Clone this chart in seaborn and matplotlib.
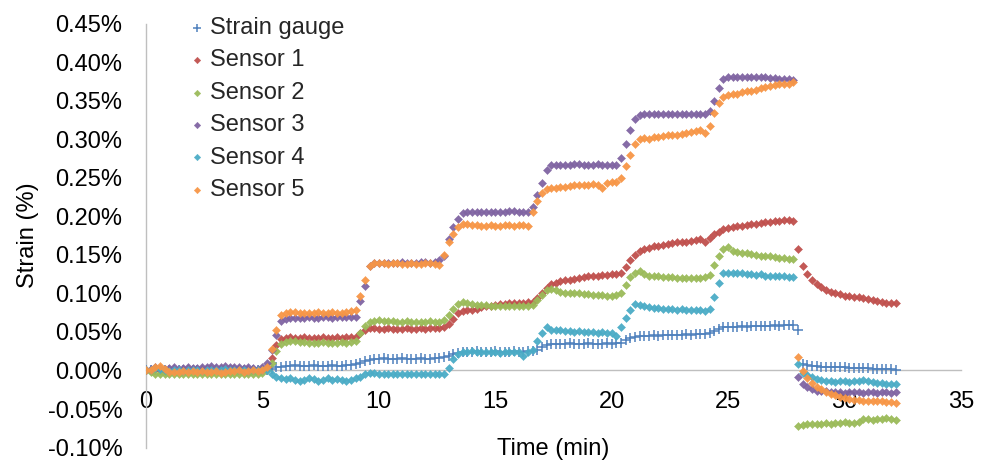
import numpy as np
import pandas as pd
import matplotlib
matplotlib.use("Agg")
import matplotlib.pyplot as plt
from matplotlib.ticker import FuncFormatter
import seaborn as sns

# Sampling times (min), one reading every 0.2 min
time_min = [
    0.0, 0.2, 0.4, 0.6, 0.8, 1.0, 1.2, 1.4, 1.6, 1.8, 2.0, 2.2, 2.4, 2.6, 2.8, 3.0, 3.2, 3.4, 3.6, 3.8,
    4.0, 4.2, 4.4, 4.6, 4.8, 5.0, 5.2, 5.4, 5.6, 5.8, 6.0, 6.2, 6.4, 6.6, 6.8, 7.0, 7.2, 7.4, 7.6, 7.8,
    8.0, 8.2, 8.4, 8.6, 8.8, 9.0, 9.2, 9.4, 9.6, 9.8, 10.0, 10.2, 10.4, 10.6, 10.8, 11.0, 11.2, 11.4, 11.6, 11.8,
    12.0, 12.2, 12.4, 12.6, 12.8, 13.0, 13.2, 13.4, 13.6, 13.8, 14.0, 14.2, 14.4, 14.6, 14.8, 15.0, 15.2, 15.4, 15.6, 15.8,
    16.0, 16.2, 16.4, 16.6, 16.8, 17.0, 17.2, 17.4, 17.6, 17.8, 18.0, 18.2, 18.4, 18.6, 18.8, 19.0, 19.2, 19.4, 19.6, 19.8,
    20.0, 20.2, 20.4, 20.6, 20.8, 21.0, 21.2, 21.4, 21.6, 21.8, 22.0, 22.2, 22.4, 22.6, 22.8, 23.0, 23.2, 23.4, 23.6, 23.8,
    24.0, 24.2, 24.4, 24.6, 24.8, 25.0, 25.2, 25.4, 25.6, 25.8, 26.0, 26.2, 26.4, 26.6, 26.8, 27.0, 27.2, 27.4, 27.6, 27.8,
    28.0, 28.2, 28.4, 28.6, 28.8, 29.0, 29.2, 29.4, 29.6, 29.8, 30.0, 30.2, 30.4, 30.6, 30.8, 31.0, 31.2, 31.4, 31.6, 31.8,
    32.0, 32.2,
]

# Strain readings (%)
strain_gauge = [
    0.000, 0.000, 0.001, 0.000, 0.000, 0.000, 0.001, 0.000, 0.000,
    0.000, 0.000, 0.001, 0.000, 0.000, 0.000, 0.000, 0.000, 0.001,
    0.000, 0.000, 0.000, 0.000, 0.000, 0.000, 0.000, 0.000, 0.001,
    0.002, 0.004, 0.005,
    0.006, 0.006, 0.007, 0.006, 0.006, 0.006, 0.007, 0.006,
    0.006, 0.006, 0.007, 0.006, 0.006, 0.007, 0.007, 0.008,
    0.010, 0.012, 0.014,
    0.015, 0.015, 0.016, 0.015, 0.015, 0.015, 0.016, 0.015,
    0.015, 0.015, 0.016, 0.015, 0.015, 0.016, 0.016, 0.017,
    0.019, 0.021, 0.023, 0.024,
    0.024, 0.024, 0.025, 0.024, 0.024, 0.024, 0.025, 0.024,
    0.024, 0.024, 0.025, 0.024, 0.024, 0.025, 0.025,
    0.027, 0.030, 0.033, 0.034,
    0.035, 0.035, 0.035, 0.036, 0.035, 0.035, 0.035, 0.036,
    0.035, 0.035, 0.035, 0.036, 0.035, 0.036, 0.036,
    0.039, 0.042, 0.044, 0.045,
    0.045, 0.045, 0.046, 0.045, 0.046, 0.046, 0.046, 0.046,
    0.046, 0.047, 0.046, 0.047, 0.047, 0.047, 0.048,
    0.051, 0.054, 0.056, 0.057,
    0.057, 0.057, 0.058, 0.057, 0.058, 0.058, 0.058,
    0.058, 0.058, 0.059, 0.058, 0.059, 0.059, 0.059,
    0.052, 0.008, 0.007, 0.006, 0.006, 0.005, 0.005, 0.004, 0.004, 0.004, 0.004,
    0.003, 0.003, 0.003, 0.003, 0.003, 0.002, 0.002, 0.002, 0.002, 0.002, 0.001,
]

sensor_1 = [
    0.001, 0.000, 0.002, 0.001, -0.001, 0.000, 0.001, 0.000, 0.001,
    0.002, 0.001, 0.000, 0.001, 0.002, 0.001, 0.000, 0.001, 0.002,
    0.001, 0.000, 0.001, 0.000, 0.000, 0.001, 0.000, 0.001, 0.004,
    0.016, 0.033, 0.041,
    0.042, 0.043, 0.042, 0.042, 0.043, 0.042, 0.042, 0.042,
    0.043, 0.042, 0.042, 0.043, 0.042, 0.043, 0.043, 0.044,
    0.048, 0.053, 0.055,
    0.055, 0.054, 0.054, 0.055, 0.054, 0.054, 0.054, 0.055,
    0.054, 0.054, 0.055, 0.054, 0.055, 0.055, 0.055, 0.056,
    0.060, 0.067, 0.074, 0.077,
    0.078, 0.079, 0.080, 0.082, 0.083, 0.084, 0.085, 0.086,
    0.086, 0.087, 0.088, 0.088, 0.088, 0.089, 0.089,
    0.094, 0.101, 0.107, 0.112,
    0.114, 0.116, 0.117, 0.118, 0.119, 0.120, 0.121, 0.122,
    0.122, 0.123, 0.124, 0.124, 0.125, 0.125, 0.127,
    0.134, 0.143, 0.150, 0.155,
    0.157, 0.159, 0.161, 0.162, 0.163, 0.164, 0.165, 0.166,
    0.167, 0.167, 0.168, 0.169, 0.170, 0.166, 0.172,
    0.177, 0.180, 0.183, 0.185,
    0.186, 0.187, 0.188, 0.189, 0.190, 0.190, 0.191,
    0.192, 0.193, 0.194, 0.194, 0.195, 0.195, 0.194,
    0.157, 0.135, 0.125, 0.118, 0.112, 0.108, 0.105, 0.102, 0.100, 0.099, 0.097,
    0.096, 0.095, 0.095, 0.094, 0.093, 0.092, 0.090, 0.089, 0.088, 0.088, 0.087,
]

sensor_2 = [
    0.000, -0.002, -0.004, -0.005, -0.004, -0.004, -0.005, -0.004, -0.005,
    -0.004, -0.004, -0.005, -0.004, -0.004, -0.005, -0.005, -0.004, -0.004,
    -0.005, -0.004, -0.004, -0.004, -0.005, -0.004, -0.004, -0.003, 0.000,
    0.010, 0.025, 0.034,
    0.037, 0.038, 0.038, 0.037, 0.037, 0.036, 0.036, 0.036,
    0.037, 0.036, 0.036, 0.036, 0.037, 0.036, 0.037, 0.038,
    0.048, 0.058, 0.063,
    0.064, 0.065, 0.064, 0.064, 0.064, 0.063, 0.063, 0.064,
    0.063, 0.063, 0.063, 0.063, 0.064, 0.063, 0.063, 0.065,
    0.072, 0.080, 0.086, 0.089,
    0.087, 0.086, 0.085, 0.085, 0.085, 0.084, 0.084, 0.084,
    0.083, 0.083, 0.083, 0.084, 0.083, 0.083, 0.085,
    0.091, 0.098, 0.104, 0.106,
    0.104, 0.102, 0.101, 0.101, 0.100, 0.100, 0.099, 0.099,
    0.098, 0.098, 0.098, 0.097, 0.097, 0.098, 0.100,
    0.111, 0.121, 0.127, 0.129,
    0.125, 0.123, 0.122, 0.122, 0.121, 0.121, 0.121, 0.120,
    0.120, 0.120, 0.120, 0.120, 0.120, 0.121, 0.124,
    0.137, 0.149, 0.157, 0.160,
    0.155, 0.154, 0.153, 0.152, 0.151, 0.150, 0.149,
    0.148, 0.148, 0.147, 0.146, 0.146, 0.145, 0.144,
    -0.072, -0.071, -0.070, -0.070, -0.069, -0.069, -0.068, -0.069, -0.068, -0.068, -0.067,
    -0.068, -0.068, -0.067, -0.063, -0.063, -0.064, -0.063, -0.063, -0.062, -0.063, -0.064,
]

sensor_3 = [
    0.000, 0.002, 0.005, 0.003, 0.002, 0.003, 0.004, 0.002, 0.003,
    0.004, 0.003, 0.003, 0.004, 0.005, 0.006, 0.005, 0.005, 0.006,
    0.004, 0.005, 0.004, 0.003, 0.004, 0.003, 0.002, 0.004, 0.010,
    0.026, 0.046, 0.064,
    0.067, 0.068, 0.068, 0.068, 0.068, 0.069, 0.068, 0.068,
    0.069, 0.069, 0.068, 0.069, 0.069, 0.069, 0.069, 0.070,
    0.090, 0.110, 0.135,
    0.139, 0.140, 0.140, 0.140, 0.140, 0.140, 0.141, 0.140,
    0.140, 0.140, 0.141, 0.141, 0.140, 0.141, 0.143, 0.148,
    0.170, 0.186, 0.197, 0.204,
    0.205, 0.206, 0.206, 0.206, 0.206, 0.206, 0.206, 0.206,
    0.206, 0.207, 0.207, 0.206, 0.206, 0.206, 0.212,
    0.228, 0.243, 0.260, 0.266,
    0.266, 0.267, 0.267, 0.267, 0.268, 0.268, 0.267, 0.267,
    0.267, 0.268, 0.267, 0.267, 0.266, 0.266, 0.275,
    0.294, 0.312, 0.326, 0.331,
    0.332, 0.333, 0.333, 0.333, 0.333, 0.332, 0.333, 0.332,
    0.332, 0.333, 0.332, 0.332, 0.332, 0.333, 0.336,
    0.350, 0.366, 0.378, 0.381,
    0.381, 0.381, 0.381, 0.381, 0.381, 0.380, 0.381,
    0.381, 0.379, 0.379, 0.378, 0.378, 0.378, 0.377,
    -0.008, -0.017, -0.021, -0.024, -0.026, -0.027, -0.027, -0.028, -0.028, -0.028, -0.029,
    -0.028, -0.028, -0.028, -0.029, -0.028, -0.028, -0.029, -0.028, -0.028, -0.029, -0.028,
]

sensor_4 = [
    0.000, 0.001, 0.003, 0.002, 0.000, -0.001, 0.000, 0.000, -0.001,
    0.000, 0.001, 0.000, -0.001, 0.000, 0.001, 0.000, 0.000, 0.002,
    0.001, 0.000, 0.001, 0.000, -0.001, 0.000, 0.000, 0.000, 0.000,
    -0.004, -0.008, -0.010,
    -0.011, -0.010, -0.012, -0.013, -0.012, -0.010, -0.011, -0.013,
    -0.012, -0.010, -0.012, -0.011, -0.012, -0.013, -0.012, -0.010,
    -0.008, -0.004, -0.003,
    -0.003, -0.004, -0.004, -0.005, -0.004, -0.005, -0.004, -0.005,
    -0.004, -0.005, -0.005, -0.004, -0.005, -0.004, -0.005, -0.004,
    0.003, 0.015, 0.021, 0.024,
    0.024, 0.025, 0.024, 0.024, 0.024, 0.024, 0.024, 0.023,
    0.024, 0.024, 0.024, 0.024, 0.019, 0.024, 0.027,
    0.038, 0.048, 0.057, 0.053,
    0.052, 0.052, 0.051, 0.051, 0.050, 0.051, 0.050, 0.050,
    0.050, 0.049, 0.050, 0.049, 0.049, 0.045, 0.056,
    0.068, 0.079, 0.086, 0.085,
    0.083, 0.082, 0.081, 0.081, 0.080, 0.080, 0.080, 0.079,
    0.080, 0.078, 0.078, 0.078, 0.078, 0.077, 0.080,
    0.095, 0.114, 0.127, 0.127,
    0.127, 0.126, 0.126, 0.125, 0.125, 0.124, 0.125,
    0.123, 0.122, 0.122, 0.122, 0.122, 0.121, 0.121,
    0.008, -0.003, -0.006, -0.009, -0.011, -0.012, -0.014, -0.014, -0.015, -0.014, -0.014,
    -0.015, -0.014, -0.013, -0.012, -0.014, -0.015, -0.016, -0.016, -0.017, -0.017, -0.018,
]

sensor_5 = [
    0.000, 0.000, 0.004, 0.006, 0.002, -0.002, -0.002, -0.002, -0.001,
    -0.002, -0.001, -0.002, -0.001, -0.002, -0.002, -0.001, -0.003, -0.002,
    -0.001, -0.001, 0.000, -0.002, -0.001, 0.000, -0.001, 0.000, 0.005,
    0.028, 0.052, 0.072,
    0.075, 0.076, 0.076, 0.075, 0.075, 0.075, 0.075, 0.076,
    0.075, 0.075, 0.076, 0.075, 0.075, 0.076, 0.077, 0.078,
    0.097, 0.118, 0.135,
    0.139, 0.139, 0.139, 0.138, 0.139, 0.139, 0.138, 0.138,
    0.139, 0.138, 0.138, 0.139, 0.139, 0.138, 0.137, 0.150,
    0.166, 0.177, 0.186, 0.190,
    0.190, 0.189, 0.189, 0.188, 0.188, 0.189, 0.188, 0.188,
    0.189, 0.189, 0.188, 0.189, 0.189, 0.188, 0.205,
    0.220, 0.230, 0.235, 0.237,
    0.237, 0.238, 0.238, 0.239, 0.240, 0.241, 0.241, 0.240,
    0.242, 0.241, 0.237, 0.243, 0.244, 0.244, 0.250,
    0.265, 0.280, 0.294, 0.300,
    0.301, 0.300, 0.303, 0.303, 0.304, 0.305, 0.305, 0.306,
    0.307, 0.308, 0.309, 0.311, 0.312, 0.308, 0.317,
    0.334, 0.347, 0.355, 0.357,
    0.358, 0.359, 0.361, 0.362, 0.363, 0.364, 0.366,
    0.368, 0.369, 0.370, 0.371, 0.372, 0.372, 0.374,
    0.018, -0.001, -0.010, -0.016, -0.021, -0.024, -0.028, -0.030, -0.032, -0.034, -0.036,
    -0.037, -0.038, -0.038, -0.039, -0.039, -0.040, -0.039, -0.040, -0.041, -0.041, -0.042,
]

series_names = ["Strain gauge", "Sensor 1", "Sensor 2", "Sensor 3", "Sensor 4", "Sensor 5"]
series_values = [strain_gauge, sensor_1, sensor_2, sensor_3, sensor_4, sensor_5]
series_colors = ["#4F81BD", "#C0504D", "#9BBB59", "#8064A2", "#4BACC6", "#F79646"]

x_ticks = [0, 5, 10, 15, 20, 25, 30, 35]
y_ticks = [-0.10, -0.05, 0.00, 0.05, 0.10, 0.15, 0.20, 0.25, 0.30, 0.35, 0.40, 0.45]

for vals in series_values:
    assert len(vals) == len(time_min)

frames = [pd.DataFrame({"Time (min)": time_min, "Strain (%)": vals, "Series": name})
          for name, vals in zip(series_names, series_values)]
data = pd.concat(frames, ignore_index=True)

sns.set_theme(style="white")
plt.rcParams["font.family"] = ["Liberation Sans", "DejaVu Sans"]

W, H = 988, 476
fig = plt.figure(figsize=(W / 100, H / 100), dpi=100)
top_px, bot_px, left_px, right_px = 23.5, 447.6, 146, 961
ax = fig.add_axes([left_px / W, 1 - bot_px / H, (right_px - left_px) / W, (bot_px - top_px) / H])

for name, color in zip(series_names, series_colors):
    sub = data[data["Series"] == name]
    if name == "Strain gauge":
        sns.scatterplot(data=sub, x="Time (min)", y="Strain (%)", marker="+", s=42,
                        color=color, linewidth=1.1, label=name, ax=ax, zorder=3)
    else:
        sns.scatterplot(data=sub, x="Time (min)", y="Strain (%)", marker="D", s=17,
                        color=color, linewidth=0.3, edgecolor=color, alpha=0.95,
                        label=name, ax=ax, zorder=3)

ax.set_xlim(0, 35)
ax.set_ylim(-0.10, 0.45)
ax.set_xticks(x_ticks)
ax.set_yticks(y_ticks)
ax.yaxis.set_major_formatter(FuncFormatter(lambda v, p: f"{v:.2f}%"))

for side in ["top", "right"]:
    ax.spines[side].set_visible(False)
ax.spines["bottom"].set_position(("data", 0))
for side in ["left", "bottom"]:
    ax.spines[side].set_color("#BFBFBF")
    ax.spines[side].set_linewidth(1.0)
    ax.spines[side].set_zorder(1)

ax.tick_params(axis="x", length=0, pad=14.5, labelsize=17, colors="black")
ax.tick_params(axis="y", length=0, pad=17, labelsize=17, colors="black")

ax.set_xlabel("Time (min)", fontsize=17, color="black")
ax.xaxis.set_label_coords(0.5, -0.003)
ax.xaxis.label.set_verticalalignment("center")
ax.set_ylabel("Strain (%)", fontsize=17, color="black")
ax.yaxis.set_label_coords((28 - left_px) / (right_px - left_px), 0.5)
ax.yaxis.label.set_verticalalignment("center")

leg = ax.legend(loc="upper left", bbox_to_anchor=(190 / W, 1 - 17 / H),
                bbox_transform=fig.transFigure, frameon=False, borderpad=0,
                handlelength=0.6, handletextpad=0.25, labelspacing=0.44,
                fontsize=17, borderaxespad=0, markerscale=0.8)

fig.savefig("out.png", dpi=100)
